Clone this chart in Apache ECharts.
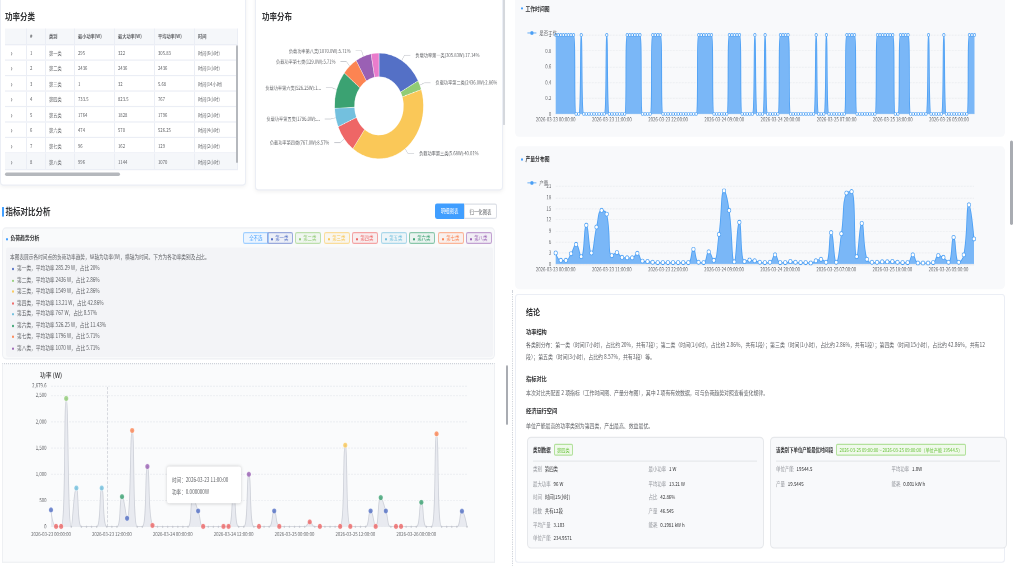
<!DOCTYPE html>
<html lang="zh-CN">
<head>
<meta charset="utf-8">
<title>功率分析</title>
<script src="https://cdn.jsdelivr.net/npm/echarts@6/dist/echarts.min.js"></script>
<style>
  html, body { margin: 0; padding: 0; background: #fff; overflow: hidden; }
  #page {
    position: absolute; left: 0; top: 0; width: 1016px; height: 476px;
    transform: scaleY(1.19); transform-origin: 0 0;
    font-family: 'Noto Sans CJK SC', 'Noto Sans', sans-serif; color: #303133;
  }
  .card { position: absolute; background: #fff; border: 1px solid #ebeef5; border-radius: 3px; box-shadow: 0 1px 4px rgba(0, 0, 0, 0.06); box-sizing: border-box; }
  .panel { position: absolute; background: #f8f9fb; border-radius: 4px; box-sizing: border-box; }
  .h-title { position: absolute; font-size: 7.5px; font-weight: 700; line-height: 9px; white-space: nowrap; }
  .sub-title { position: absolute; font-size: 4.8px; font-weight: 700; line-height: 6px; white-space: nowrap; }
  .sub-title::before { content: ''; display: inline-block; width: 2px; height: 2px; background: #409eff; border-radius: 1px; margin-right: 2.5px; vertical-align: middle; }
  .chart { position: absolute; }

  .tbl { position: absolute; left: 5px; top: 23.5px; width: 233px; font-size: 4.2px; color: #606266; }
  .tbl .row { display: flex; height: 13.1px; align-items: center; border-bottom: 0.5px solid #ebeef5; box-sizing: border-box; }
  .tbl .row.head { height: 14.3px; background: #f5f7fa; font-weight: 700; color: #606266; }
  .tbl .row.hover { background: #f5f7fa; }
  .tbl .row > div { height: 100%; display: flex; align-items: center; box-sizing: border-box; border-right: 0.5px solid #ebeef5; padding-left: 3px; white-space: nowrap; }
  .tbl .arrow { color: #606266; font-size: 7px; padding-left: 5.5px !important; }

  .btn { position: absolute; top: 170.6px; height: 13.5px; line-height: 13.5px; font-size: 4.4px; text-align: center; box-sizing: border-box; }
  .filter { position: absolute; top: 195px; height: 10px; line-height: 9px; width: 25.5px; font-size: 4.4px; text-align: center; border-radius: 2px; box-sizing: border-box; white-space: nowrap; }
  .filter i { display: inline-block; width: 2px; height: 2px; border-radius: 1px; margin-right: 2px; vertical-align: middle; }
  .desc { position: absolute; left: 6px; top: 208.4px; width: 487px; height: 91.6px; background: #f3f4f7; border-radius: 2px; font-size: 4.7px; line-height: 9.5px; color: #606266; padding: 3.6px 0 0 4px; box-sizing: border-box; }
  .desc .item i { display: inline-block; width: 2px; height: 2px; border-radius: 1px; margin: 0 3px 0 2px; vertical-align: middle; }

  .concl { position: absolute; left: 515px; top: 247.1px; width: 490px; height: 226px; background: #fff; border: 1px solid #ebeef5; border-radius: 3px; box-sizing: border-box; }
  .concl .t { position: absolute; left: 10px; white-space: nowrap; }
  .concl .h1 { font-size: 7px; font-weight: 700; }
  .concl .h2 { font-size: 5.2px; font-weight: 700; }
  .concl .p { font-size: 4.9px; color: #606266; line-height: 10px; }
  .sub { position: absolute; top: 119px; width: 237px; height: 94px; background: #f8f9fb; border: 0.5px solid #e6e8eb; border-radius: 4px; box-sizing: border-box; }
  .sub .hd { position: absolute; left: 5.5px; top: 4.5px; font-size: 4.4px; font-weight: 700; white-space: nowrap; line-height: 9.3px; }
  .sub .tag { display: inline-block; margin-left: 3px; padding: 0 2.5px; border: 0.6px solid #b3e19d; background: #f0f9eb; color: #67c23a; font-weight: 400; font-size: 4.2px; border-radius: 1.5px; line-height: 8.3px; }
  .sub .line { position: absolute; left: 5.5px; right: 5.5px; top: 18.5px; border-top: 0.5px solid #e6e8eb; }
  .sub .kv { position: absolute; font-size: 4.4px; white-space: nowrap; line-height: 11.6px; }
  .sub .kv span { color: #909399; margin-right: 3px; }
</style>
</head>
<body>
<div id="page">
  <!-- 功率分类 -->
  <div class="card" style="left:0;top:-5px;width:246px;height:160.5px;"></div>
  <div class="h-title" style="left:5px;top:9px;">功率分类</div>
  <div class="tbl" id="powerTable"></div>
  <div style="position:absolute;left:5px;top:145.4px;width:115px;height:2.5px;background:#b5b8bd;border-radius:2px;"></div>
  <div style="position:absolute;left:235.5px;top:38px;width:2px;height:99px;background:#b5b8bd;border-radius:1px;"></div>

  <!-- 功率分布 -->
  <div class="card" style="left:255px;top:-5px;width:248px;height:165px;"></div>
  <div class="h-title" style="left:262px;top:9px;">功率分布</div>
  <div class="chart" id="pieChart" style="left:262px;top:18.5px;width:241px;height:140px;"></div>
  <div style="position:absolute;left:503px;top:0;width:2px;height:105px;background:#d5d8dd;"></div>

  <!-- 指标对比分析 -->
  <div style="position:absolute;left:2px;top:173.7px;width:1.6px;height:8.4px;background:#409eff;"></div>
  <div class="h-title" style="left:5.5px;top:173px;">指标对比分析</div>
  <div class="btn" style="left:435px;width:29px;background:#409eff;color:#fff;border-radius:2px 0 0 2px;">明细图表</div>
  <div class="btn" style="left:464px;width:33px;background:#fff;color:#606266;border:0.6px solid #dcdfe6;border-radius:0 2px 2px 0;">归一化图表</div>

  <div class="panel" style="left:2px;top:190.8px;width:493px;height:111px;background:#f9fafb;border:0.5px solid #eef0f4;"></div>
  <div class="sub-title" style="left:6px;top:197px;">负荷趋势分析</div>
  <div id="filters"></div>
  <div class="desc" id="desc"></div>

  <div class="panel" style="left:2px;top:305px;width:493px;height:168px;background:#fafbfc;border:0.5px solid #eef0f3;border-top:1px dotted #cfd3da;border-radius:0;"></div>
  <div class="chart" id="powerChart" style="left:2px;top:305px;width:493px;height:168px;"></div>
  <div style="position:absolute;left:167px;top:392.4px;width:74px;height:31px;background:#fff;border-radius:2px;box-shadow:0 0 3px rgba(0,0,0,0.18);font-size:4.6px;line-height:10px;color:#606266;padding:6px 0 0 5px;box-sizing:border-box;white-space:nowrap;">
    时间：2026-03-23 11:00:00<br>功率：0.000000W
  </div>
  <div style="position:absolute;left:505.5px;top:306.7px;width:2.5px;height:50.4px;background:#a9acb2;border-radius:1px;"></div>

  <!-- 右侧 -->
  <div class="panel" style="left:515px;top:-5px;width:490px;height:120px;"></div>
  <div class="sub-title" style="left:521px;top:3.7px;">工作时间图</div>
  <div class="chart" id="workChart" style="left:515px;top:0;width:490px;height:115px;"></div>

  <div class="panel" style="left:515px;top:122.7px;width:490px;height:120.2px;"></div>
  <div class="sub-title" style="left:521px;top:129.8px;">产量分布图</div>
  <div class="chart" id="outputChart" style="left:515px;top:122.7px;width:490px;height:120.2px;"></div>
  <div style="position:absolute;left:1010px;top:117.6px;width:3px;height:71.4px;background:#a9acb2;border-radius:1.5px;"></div>

  <div style="position:absolute;left:512px;top:244px;height:232px;border-left:0.8px dotted #cfd3da;"></div>
  <div class="concl">
    <div class="t h1" style="top:8.5px;">结论</div>
    <div class="t h2" style="top:27px;">功率结构</div>
    <div class="t p" style="top:37px;">各类别分布：第一类（时间(7小时)，占比约 20%，共有7段）；第二类（时间(1小时)，占比约 2.86%，共有1段）；第三类（时间(1小时)，占比约 2.86%，共有1段）；第四类（时间(15小时)，占比约 42.86%，共有12<br>段）；第五类（时间(3小时)，占比约 8.57%，共有3段）等。</div>
    <div class="t h2" style="top:66px;">指标对比</div>
    <div class="t p" style="top:77.3px;">本次对比共配置 2 项指标（工作时间图、产量分布图），其中 2 项有有效数据，可与负荷趋势对照查看变化规律。</div>
    <div class="t h2" style="top:92.8px;">经济运行空间</div>
    <div class="t p" style="top:105px;">单位产能最高的功率类别为第四类，产出最高、效益最优。</div>

    <div class="sub" style="left:10.5px;">
      <div class="hd">类别数据<span class="tag">第四类</span></div>
      <div class="line"></div>
      <div class="kv" style="left:5.5px;top:21.1px;"><span>类别</span>第四类<br><span>最大功率</span>96 W<br><span>时间</span>时间(15小时)<br><span>段数</span>共有12段<br><span>平均产量</span>3.103<br><span>单位产能</span>234.9571</div>
      <div class="kv" style="left:121px;top:21.1px;"><span>最小功率</span>1 W<br><span>平均功率</span>13.21 W<br><span>占比</span>42.86%<br><span>产量</span>46.545<br><span>能耗</span>0.1981 kW h</div>
    </div>
    <div class="sub" style="left:253.5px;">
      <div class="hd">该类别下单位产能最优时间段<span class="tag">2026-03-25 09:00:00 ~ 2026-03-25 09:00:00（单位产能 19544.5）</span></div>
      <div class="line"></div>
      <div class="kv" style="left:5.5px;top:21.1px;"><span>单位产能</span>19544.5<br><span>产量</span>19.5445</div>
      <div class="kv" style="left:121px;top:21.1px;"><span>平均功率</span>1.0W<br><span>能耗</span>0.001 kW h</div>
    </div>
  </div>
</div>

<script>
const FONT = "'Noto Sans CJK SC', 'Noto Sans', sans-serif"
const BLUE = '#4a9ff5'

// 类别
const classNames = ['第一类', '第二类', '第三类', '第四类', '第五类', '第六类', '第七类', '第八类']
const classColors = ['#5470c6', '#91cc75', '#fac858', '#ee6666', '#73c0de', '#3ba272', '#fc8452', '#9a60b4', '#ea7ccc']

// 功率分类表
const tableMin = ['295', '2436', '1', '733.5', '1764', '474', '96', '996']
const tableMax = ['322', '2436', '32', '823.5', '1828', '570', '162', '1144']
const tableAvg = ['305.83', '2436', '5.68', '767', '1796', '526.25', '129', '1070']
const tableHours = [6, 1, 14, 3, 2, 4, 2, 2]

// 负荷趋势说明
const descAvg = ['285.29', '2436', '1549', '13.21', '767', '526.25', '1796', '1070']
const descShare = ['20%', '2.86%', '2.86%', '42.86%', '8.57%', '11.43%', '5.71%', '5.71%']

// 功率分布（饼图）
const pieNames = ['负载功率第一类', '负载功率第二类', '负载功率第三类', '负载功率第四类', '负载功率第五类', '负载功率第六类', '负载功率第七类', '负载功率第八类', '负载功率第九类']
const piePower = ['305.83', '2436.0', '5.68', '767.0', '1796.0', '526.25', '129.0', '1070.0', '']
const pieShare = [17.14, 2.86, 40.01, 8.57, 5.71, 11.43, 5.71, 5.71, 2.86]

// 工作时间图（30 分钟一个点）
const workValues = [
  1, 1, 1, 1, 1, 1, 1, 1, 0, 0,
  1, 0, 0, 0, 0, 0, 0, 0, 0, 0,
  1, 0, 0, 0, 0, 0, 0, 0, 1, 1,
  1, 1, 1, 1, 0, 0, 0, 0, 1, 1,
  1, 1, 0, 0, 0, 0, 0, 0, 0, 0,
  0, 0, 0, 0, 0, 0, 1, 1, 1, 1,
  1, 1, 0, 0, 0, 0, 0, 0, 1, 1,
  1, 1, 1, 0, 0, 0, 0, 0, 1, 0,
  0, 0, 1, 0, 0, 0, 0, 0, 1, 1,
  1, 1, 0, 0, 0, 0, 0, 0, 0, 0,
  0, 0, 1, 0, 0, 0, 1, 0, 0, 0,
  0, 0, 0, 0, 1, 1, 1, 1, 0, 0,
  0, 0, 0, 0, 0, 0, 1, 1, 1, 1,
  1, 1, 1, 0, 0, 1, 1, 1, 1, 0,
  0, 0, 0, 0, 0, 0, 1, 0, 0, 0,
  0, 0, 1, 0, 0, 0, 0, 0, 0, 0,
  0, 0, 1, 1, 1,
]

// 产量分布图（每小时）
const outputValues = [
  3, 1, 1, 2.8, 5.3, 2, 10.5, 3, 10, 14.5,
  13.5, 2.3, 3.1, 1.8, 1.7, 1.7, 2.9, 0.8, 0.7, 0.5,
  0.4, 0.4, 0.4, 0.4, 0.4, 0.4, 0.4, 4, 0.5, 0.4,
  3.3, 1, 8, 19.8, 14.5, 0.6, 11.3, 0.7, 1.1, 0.9,
  0.5, 0.4, 0.5, 2.5, 0.4, 0.4, 0.7, 0.5, 0.4, 0.4,
  0.3, 0.9, 1.3, 0.5, 8.5, 0.5, 8.2, 19.2, 19.6, 2,
  11, 1.3, 0.5, 0.5, 0.6, 0.6, 0.7, 0.5, 0.4, 0.4,
  2.5, 0.3, 0.3, 0.3, 0.4, 2.3, 1.8, 0.5, 7.2, 0.5,
  2.5, 16, 6.8,
]

// 负荷功率（每小时）及所属类别（0 = 无标记）
const powerValues = [
  318, 5, 5, 2436, 0, 735, 0, 0, 0, 0,
  735, 0, 0, 0, 570, 160, 1828, 0, 0, 1144,
  25, 0, 0, 0, 0, 0, 0, 0, 530, 300,
  5, 0, 0, 0, 5, 5, 580, 0, 0, 996,
  0, 5, 0, 0, 300, 5, 0, 0, 0, 0,
  0, 90, 0, 5, 0, 0, 0, 5, 1549, 5,
  0, 0, 0, 300, 5, 553, 300, 0, 5, 5,
  0, 0, 0, 464, 0, 0, 1764, 0, 0, 0,
  0, 295, 0,
]
const powerClass = [
  1, 4, 4, 2, 0, 5, 0, 0, 0, 0,
  5, 0, 0, 0, 6, 1, 7, 0, 0, 8,
  4, 0, 0, 0, 0, 0, 0, 0, 0, 1,
  4, 0, 0, 0, 4, 4, 0, 0, 0, 8,
  0, 4, 0, 0, 1, 4, 0, 0, 0, 0,
  0, 4, 0, 4, 0, 0, 0, 4, 3, 4,
  0, 0, 0, 1, 4, 6, 1, 0, 4, 4,
  0, 0, 0, 6, 0, 0, 7, 0, 0, 0,
  0, 1, 0,
]
const powerMax = 2679.6
const pointerIndex = 11

function timeLabels(count, stepMinutes) {
  const pad = (n) => String(n).padStart(2, '0')
  const start = Date.UTC(2026, 2, 23, 0, 0, 0)
  const out = []
  for (let i = 0; i < count; i++) {
    const d = new Date(start + i * stepMinutes * 60000)
    out.push(`${d.getUTCFullYear()}-${pad(d.getUTCMonth() + 1)}-${pad(d.getUTCDate())} ${pad(d.getUTCHours())}:${pad(d.getUTCMinutes())}:00`)
  }
  return out
}

function rgba(hex, a) {
  const n = parseInt(hex.slice(1), 16)
  return `rgba(${n >> 16}, ${(n >> 8) & 255}, ${n & 255}, ${a})`
}

// ---------- HTML parts ----------
function renderTable() {
  const widths = [22, 19, 29, 40, 40, 40, 43]
  const head = ['', '#', '类别', '最小功率(W)', '最大功率(W)', '平均功率(W)', '时间']
  const cell = (text, i, cls) => `<div class="${cls || ''}" style="width:${widths[i]}px">${text}</div>`
  let html = `<div class="row head">${head.map((h, i) => cell(h, i)).join('')}</div>`
  classNames.forEach((name, r) => {
    const cells = ['›', r + 1, name, tableMin[r], tableMax[r], tableAvg[r], `时间(${tableHours[r]}小时)`]
    html += `<div class="row${r === 7 ? ' hover' : ''}">${cells.map((c, i) => cell(c, i, i === 0 ? 'arrow' : '')).join('')}</div>`
  })
  document.getElementById('powerTable').innerHTML = html
}

function renderFilters() {
  const lefts = [243, 267, 295, 324, 352, 381, 409, 438, 466]
  let html = `<div class="filter" style="left:${lefts[0]}px;border:0.6px solid #a0cfff;background:#ecf5ff;color:#409eff;">全不选</div>`
  classNames.forEach((name, i) => {
    const c = classColors[i]
    html += `<div class="filter" style="left:${lefts[i + 1]}px;border:0.6px solid ${rgba(c, 0.55)};background:${rgba(c, 0.08)};color:${c};"><i style="background:${c}"></i>${name}</div>`
  })
  document.getElementById('filters').innerHTML = html
}

function renderDesc() {
  let html = '<div>本图表展示各时间点的负荷功率趋势，纵轴为功率(W)，横轴为时间。下方为各功率类别及占比。</div>'
  classNames.forEach((name, i) => {
    html += `<div class="item"><i style="background:${classColors[i]}"></i>${name}，平均功率 ${descAvg[i]} W，占比 ${descShare[i]}</div>`
  })
  document.getElementById('desc').innerHTML = html
}

// ---------- charts ----------
function initChart(id) {
  return echarts.init(document.getElementById(id), null, { devicePixelRatio: 2 })
}

function renderPie() {
  const chart = initChart('pieChart')
  chart.setOption({
    animation: false,
    textStyle: { fontFamily: FONT },
    series: [
      {
        type: 'pie',
        center: [117, 70],
        radius: [24.5, 44.5],
        startAngle: 90,
        avoidLabelOverlap: true,
        itemStyle: { borderColor: '#fff', borderWidth: 0.4 },
        label: {
          fontSize: 4.2,
          color: '#606266',
          formatter: (p) => `${p.name}(${p.data.power}W):${p.percent}%`,
        },
        labelLine: { length: 5, length2: 6, lineStyle: { width: 0.5, color: '#b8bbc2' } },
        data: pieNames.map((name, i) => ({
          name,
          value: pieShare[i],
          power: piePower[i],
          itemStyle: { color: classColors[i] },
          label: { show: piePower[i] !== '' },
          labelLine: { show: piePower[i] !== '' },
        })),
      },
    ],
  })
}

function areaChartOption(name, times, values, opts) {
  return {
    animation: false,
    textStyle: { fontFamily: FONT },
    legend: {
      left: 7,
      top: opts.legendTop,
      itemWidth: 9,
      itemHeight: 4,
      itemGap: 4,
      textStyle: { fontSize: 4.4, color: '#606266', padding: [0, 0, 0, -2] },
      data: [{ name, itemStyle: { color: BLUE, borderWidth: 0 }, lineStyle: { color: BLUE, width: 0.8 } }],
    },
    grid: { ...opts.grid, outerBoundsMode: 'none' },
    xAxis: {
      type: 'category',
      boundaryGap: false,
      data: times,
      axisTick: { show: false },
      axisLine: { lineStyle: { color: '#dcdfe6', width: 0.5 } },
      axisLabel: { interval: opts.labelInterval, fontSize: 4.3, color: '#606266', margin: 2.5 },
    },
    yAxis: {
      type: 'value',
      min: 0,
      max: opts.max,
      interval: opts.interval,
      axisLabel: { fontSize: 4.3, color: '#606266', margin: 4.5 },
      splitLine: { lineStyle: { color: '#e6e8ec', type: 'dashed', width: 0.5 } },
    },
    series: [
      {
        name,
        type: 'line',
        smooth: true,
        data: values,
        symbol: 'circle',
        symbolSize: opts.symbolSize,
        showAllSymbol: true,
        itemStyle: { color: '#fff', borderColor: BLUE, borderWidth: 0.6 },
        lineStyle: { color: BLUE, width: 0.8 },
        areaStyle: { color: '#7ab7f7', opacity: 1 },
      },
    ],
  }
}

function renderWork() {
  const chart = initChart('workChart')
  chart.setOption(areaChartOption('是否工作', timeLabels(workValues.length, 30), workValues, {
    legendTop: 20.5,
    grid: { left: 40.7, right: 30.5, top: 29.4, bottom: 19.3 },
    labelInterval: 21,
    max: 1,
    interval: 0.2,
    symbolSize: 2.4,
  }))
}

function renderOutput() {
  const chart = initChart('outputChart')
  chart.setOption(areaChartOption('产量', timeLabels(outputValues.length, 60), outputValues, {
    legendTop: 23.5,
    grid: { left: 40.7, right: 31, top: 33.6, bottom: 21.1 },
    labelInterval: 10,
    max: 21,
    interval: 3,
    symbolSize: 3.4,
  }))
}

function renderPower() {
  const chart = initChart('powerChart')
  const times = timeLabels(powerValues.length, 60)
  const dots = []
  powerClass.forEach((c, i) => {
    if (c > 0) {
      dots.push({ value: [i, powerValues[i]], itemStyle: { color: classColors[c - 1] } })
    }
  })
  chart.setOption({
    animation: false,
    textStyle: { fontFamily: FONT },
    grid: { left: 49, right: 28, top: 19.1, bottom: 30.4, outerBoundsMode: 'none' },
    xAxis: {
      type: 'category',
      boundaryGap: false,
      data: times,
      axisTick: { show: false },
      axisLine: { lineStyle: { color: '#dcdfe6', width: 0.5 } },
      axisLabel: { interval: 11, fontSize: 4.3, color: '#606266', margin: 4 },
    },
    yAxis: {
      type: 'value',
      min: 0,
      max: powerMax,
      name: '功率 (W)',
      nameGap: 6,
      nameTextStyle: { fontSize: 5.8, color: '#303133', fontWeight: 500 },
      axisLabel: { fontSize: 4.3, color: '#606266', margin: 4.5 },
      splitLine: { lineStyle: { color: '#e4e7ed', type: 'dashed', width: 0.5 } },
    },
    series: [
      {
        type: 'line',
        smooth: true,
        data: powerValues,
        symbol: 'circle',
        symbolSize: 1.6,
        showAllSymbol: true,
        itemStyle: { color: '#c3c6ce' },
        lineStyle: { color: '#cdd0d8', width: 0.8 },
        areaStyle: { color: '#e8eaf0', opacity: 1 },
        markLine: {
          silent: true,
          symbol: 'none',
          label: { show: false },
          lineStyle: { color: '#c0c4cc', type: 'dashed', width: 0.6 },
          data: [{ xAxis: times[pointerIndex] }],
        },
      },
      {
        type: 'scatter',
        data: dots,
        symbolSize: 4.5,
        itemStyle: { borderColor: '#fff', borderWidth: 0.4 },
        z: 3,
      },
    ],
  })
}

renderTable()
renderFilters()
renderDesc()
renderPie()
renderWork()
renderOutput()
renderPower()
</script>
</body>
</html>
